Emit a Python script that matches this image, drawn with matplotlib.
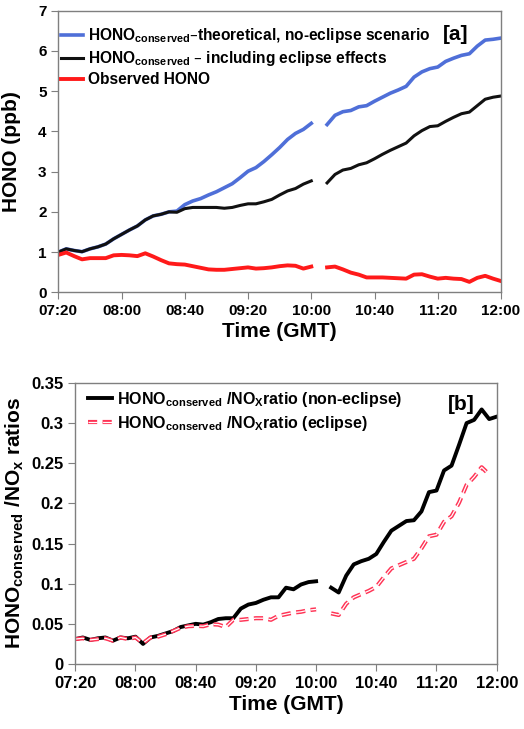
#!/usr/bin/env python3
"""HONO conserved vs observed, eclipse day"""

import matplotlib
matplotlib.use("Agg")
import matplotlib.pyplot as plt
import numpy as np

plt.rcParams['font.family'] = ['Liberation Sans', 'DejaVu Sans']
plt.rcParams['font.weight'] = 'bold'
plt.rcParams['mathtext.default'] = 'regular'

# minutes after 07:20, 5-min steps (nan = missing 10:05 sample)
minutes = np.arange(0, 285, 5)
tick_minutes = [0, 40, 80, 120, 160, 200, 240, 280]
tick_labels = ['07:20', '08:00', '08:40', '09:20', '10:00', '10:40', '11:20', '12:00']

nan = np.nan
# panel a (ppb)
hono_no_eclipse = [1.00, 1.08, 1.04, 1.01, 1.08, 1.13, 1.20, 1.33, 1.44, 1.55,
                   1.65, 1.80, 1.90, 1.94, 2.00, 2.02, 2.18, 2.27, 2.33, 2.42,
                   2.50, 2.60, 2.70, 2.85, 3.01, 3.10, 3.25, 3.42, 3.60, 3.80,
                   3.95, 4.05, 4.20, nan, 4.17, 4.40, 4.49, 4.52, 4.61, 4.64,
                   4.75, 4.85, 4.95, 5.03, 5.12, 5.35, 5.48, 5.56, 5.60, 5.74,
                   5.82, 5.89, 5.93, 6.12, 6.27, 6.29, 6.32]
hono_eclipse = [1.00, 1.08, 1.04, 1.01, 1.08, 1.13, 1.20, 1.33, 1.44, 1.55,
                1.65, 1.80, 1.90, 1.94, 2.00, 1.99, 2.08, 2.11, 2.11, 2.11,
                2.11, 2.09, 2.11, 2.16, 2.20, 2.20, 2.25, 2.31, 2.42, 2.52,
                2.58, 2.69, 2.77, nan, 2.72, 2.93, 3.04, 3.08, 3.17, 3.22,
                3.32, 3.43, 3.53, 3.62, 3.71, 3.89, 4.02, 4.12, 4.14, 4.25,
                4.35, 4.44, 4.48, 4.64, 4.80, 4.85, 4.88]
hono_observed = [0.93, 0.99, 0.90, 0.82, 0.85, 0.85, 0.85, 0.92, 0.93, 0.92,
                 0.90, 0.97, 0.89, 0.80, 0.72, 0.70, 0.69, 0.65, 0.61, 0.57,
                 0.56, 0.56, 0.58, 0.60, 0.62, 0.59, 0.60, 0.62, 0.65, 0.67,
                 0.66, 0.59, 0.64, nan, 0.62, 0.64, 0.57, 0.49, 0.44, 0.37,
                 0.37, 0.37, 0.36, 0.35, 0.34, 0.44, 0.45, 0.39, 0.34, 0.36,
                 0.34, 0.33, 0.26, 0.36, 0.41, 0.34, 0.28]

# panel b (ratio)
ratio_no_eclipse = [0.031, 0.033, 0.030, 0.032, 0.033, 0.029, 0.033, 0.032, 0.034, 0.025,
                    0.033, 0.035, 0.038, 0.041, 0.046, 0.048, 0.050, 0.049, 0.052, 0.056,
                    0.057, 0.057, 0.069, 0.074, 0.076, 0.080, 0.083, 0.083, 0.095, 0.093,
                    0.099, 0.102, 0.103, nan, 0.095, 0.089, 0.110, 0.124, 0.128, 0.131,
                    0.137, 0.152, 0.166, 0.172, 0.178, 0.179, 0.190, 0.214, 0.216, 0.241,
                    0.247, 0.273, 0.300, 0.304, 0.317, 0.305, 0.308]
ratio_eclipse = [0.031, 0.032, 0.030, 0.031, 0.032, 0.029, 0.033, 0.031, 0.033, 0.026,
                 0.033, 0.034, 0.037, 0.041, 0.045, 0.047, 0.0475, 0.047, 0.0495, 0.049,
                 0.046, 0.055, 0.055, 0.056, 0.057, 0.057, 0.055, 0.060, 0.062, 0.064,
                 0.065, 0.067, 0.068, nan, 0.063, 0.061, 0.075, 0.083, 0.087, 0.091,
                 0.096, 0.108, 0.119, 0.123, 0.127, 0.131, 0.144, 0.159, 0.161, 0.177,
                 0.184, 0.201, 0.223, 0.233, 0.245, 0.236, nan]

fig = plt.figure(figsize=(5.24, 7.29), dpi=100)
ax1 = fig.add_axes([0.1113, 0.599, 0.8448, 0.3863])
ax2 = fig.add_axes([0.1437, 0.0892, 0.8042, 0.3855])

spine_color = '#7f7f7f'
for ax in (ax1, ax2):
    for s in ax.spines.values():
        s.set_color(spine_color)
        s.set_linewidth(1.0)
    ax.tick_params(direction='out', length=5, color=spine_color, top=False, right=False)
    ax.set_xlim(0, 280)
    ax.set_xticks(tick_minutes)
    ax.set_xticklabels(tick_labels)

# [a]
ax1.plot(minutes, hono_no_eclipse, color='#4f6fd8', lw=2.6,
         label=r'HONO$_{conserved}$–theoretical, no-eclipse scenario')
ax1.plot(minutes, hono_eclipse, color='#111111', lw=2.2,
         label=r'HONO$_{conserved}$ – including eclipse effects')
ax1.plot(minutes, hono_observed, color='#ff1a1a', lw=2.8, label='Observed HONO')
ax1.set_ylim(0, 7)
ax1.set_yticks(range(0, 8))
ax1.tick_params(labelsize=11)
ax1.set_xlabel('Time (GMT)', fontsize=15, fontweight='bold', labelpad=3)
ax1.set_ylabel('HONO (ppb)', fontsize=15, fontweight='bold', labelpad=12)
ax1.legend(loc='upper left', bbox_to_anchor=(0.005, 0.944), frameon=False,
           fontsize=11.2, handlelength=1.45, handletextpad=0.3, labelspacing=0.25,
           borderpad=0, borderaxespad=0)
ax1.text(0.869, 0.917, '[a]', transform=ax1.transAxes, fontsize=15,
         fontweight='bold', ha='left', va='center')

# [b]
ax2.plot(minutes, ratio_no_eclipse, color='black', lw=2.8)
dash_pink, = ax2.plot(minutes, ratio_eclipse, color='#ff3355', lw=3.0,
                      dashes=(2.2, 1.3))
dash_core, = ax2.plot(minutes, ratio_eclipse, color='white', lw=0.9,
                      dashes=(2.2 * 3.0 / 0.9, 1.3 * 3.0 / 0.9))
solid = ax2.lines[0]
ax2.set_ylim(0, 0.35)
ax2.set_yticks([0, 0.05, 0.1, 0.15, 0.2, 0.25, 0.3, 0.35])
ax2.set_yticklabels(['0', '0.05', '0.1', '0.15', '0.2', '0.25', '0.3', '0.35'])
ax2.tick_params(labelsize=12)
ax2.set_xlabel('Time (GMT)', fontsize=15, fontweight='bold', labelpad=3)
ax2.set_ylabel(r'HONO$_{conserved}$ /NO$_{x}$ ratios', fontsize=15,
               fontweight='bold', labelpad=4)
ax2.legend([solid, (dash_pink, dash_core)],
           [r'HONO$_{conserved}$ /NO$_{X}$ratio (non-eclipse)',
            r'HONO$_{conserved}$ /NO$_{X}$ratio (eclipse)'],
           loc='upper left', bbox_to_anchor=(0.03, 0.975), frameon=False,
           fontsize=11.5, handlelength=1.5, handletextpad=0.3, labelspacing=0.3,
           borderpad=0, borderaxespad=0)
ax2.text(0.885, 0.925, '[b]', transform=ax2.transAxes, fontsize=15,
         fontweight='bold', ha='left', va='center')

plt.savefig('out.png', dpi=100)
print("Saved to out.png")
